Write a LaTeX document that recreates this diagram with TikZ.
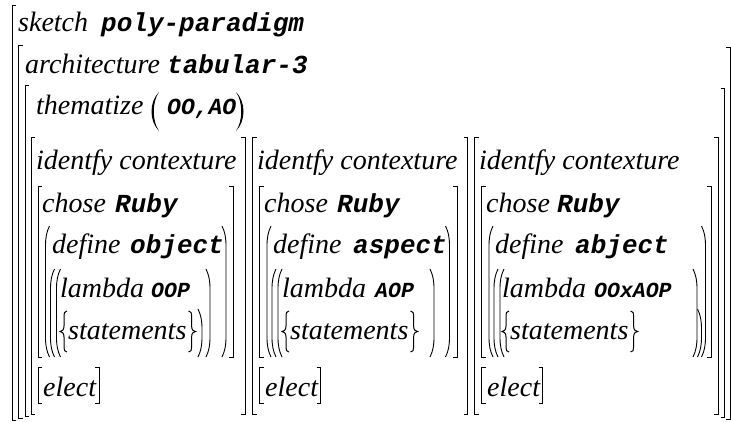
\documentclass[tikz,border=0pt]{standalone}
\usepackage{fontspec}
\setmainfont{Liberation Serif}
\newfontfamily\monof{Liberation Mono}
\usetikzlibrary{calc}
\tikzset{
 tx/.style={anchor=base west, inner sep=0pt, font=\fontsize{28}{30}\selectfont\itshape},
 cw/.style={anchor=base west, inner sep=0pt, font=\monof\fontsize{26}{30}\selectfont\bfseries\itshape},
 cwm/.style={cw, font=\monof\fontsize{23}{26}\selectfont\bfseries\itshape},
 cws/.style={cw, font=\monof\fontsize{21.5}{24}\selectfont\bfseries\itshape},
 brk/.style={line width=0.8pt},
 par/.style={line width=0.9pt},
 brc/.style={line width=1pt},
 lbrace/.pic={\draw[brc] (7,-28) .. controls (4.5,-28) and (4,-26) .. (4,-22) -- (4,-13) .. controls (4,-9) and (2,-7.5) .. (0,-7.5) .. controls (2,-7.5) and (4,-6) .. (4,-2) -- (4,8) .. controls (4,11) and (4.5,13) .. (7,13);},
 rbrace/.pic={\draw[brc] (-7,-28) .. controls (-4.5,-28) and (-4,-26) .. (-4,-22) -- (-4,-13) .. controls (-4,-9) and (-2,-7.5) .. (0,-7.5) .. controls (-2,-7.5) and (-4,-6) .. (-4,-2) -- (-4,8) .. controls (-4,11) and (-4.5,13) .. (-7,13);},
}
\newcommand\LB[3]{\draw[brk] ({#1+4},#2) -- (#1,#2) -- (#1,#3) -- ({#1+4},#3);}
\newcommand\RB[3]{\draw[brk] ({#1-4},#2) -- (#1,#2) -- (#1,#3) -- ({#1-4},#3);}
\newcommand\LP[3]{\draw[par] ({#1+4},#2) .. controls ({#1+1},{#2+6}) and (#1,{#2+12}) .. (#1,{#2+20}) -- (#1,{#3-20}) .. controls (#1,{#3-12}) and ({#1+1},{#3-6}) .. ({#1+4},#3);}
\newcommand\RP[3]{\draw[par] ({#1-4},#2) .. controls ({#1-1},{#2+6}) and (#1,{#2+12}) .. (#1,{#2+20}) -- (#1,{#3-20}) .. controls (#1,{#3-12}) and ({#1-1},{#3-6}) .. ({#1-4},#3);}
\newcommand\LPS[3]{\fill ({#1+9},#2) .. controls ({#1-1},{#2+10}) and ({#1-1},{#3-10}) .. ({#1+9},#3) .. controls ({#1+2},{#3-10}) and ({#1+2},{#2+10}) .. cycle;}
\newcommand\RPS[3]{\fill ({#1-9},#2) .. controls ({#1+1},{#2+10}) and ({#1+1},{#3-10}) .. ({#1-9},#3) .. controls ({#1-2},{#3-10}) and ({#1-2},{#2+10}) .. cycle;}
\begin{document}
\begin{tikzpicture}[x=1pt,y=-1pt]
\useasboundingbox (0,0) rectangle (731,421);
\fill[white] (0,0) rectangle (731,421);
% outer brackets
\LB{12}{5}{420}
\LB{18.5}{45}{418}
\LB{25}{85}{416}
\RB{730.4}{47}{419}
\RB{724.5}{88}{417.5}
% header texts
\node[tx] (sk) at (18,31) {sketch};
\node[cw] (pp) at (101,31) {poly-paradigm};
\node[tx] (ar) at (25,73) {architecture};
\node[cw] (tb) at (167,73) {tabular-3};
\node[tx] (th) at (36,114) {thematize};
\node[cwm] (oa) at (167,114) {OO,AO};
\LPS{150}{92}{131}
\RPS{245}{92}{131}
% column brackets
\LB{31}{137}{414} \RB{245}{137}{414}
\LB{252.5}{137}{414} \RB{467.5}{137}{414}
\LB{474.5}{137}{414} \RB{718}{137}{414}
% chose brackets
\LB{38}{186}{357} \RB{233}{186}{357}
\LB{259.5}{186}{357} \RB{457}{186}{357}
\LB{481.5}{186}{357} \RB{711}{186}{357}
% elect brackets
\LB{38}{367}{403} \RB{99}{367}{403}
\LB{259.5}{367}{403} \RB{320.5}{367}{403}
\LB{481.5}{367}{403} \RB{542.5}{367}{403}
% parens col1
\LP{45.5}{226}{357} \LP{50.5}{269}{357} \LP{56.5}{269}{357}
\RP{226}{226}{357} \RP{210}{269}{357} \RP{202}{309}{357}
% parens col2
\LP{267}{226}{357} \LP{272}{269}{357} \LP{278}{269}{357}
\RP{449.5}{226}{357} \RP{434}{269}{357}
% parens col3
\LP{489}{226}{357} \LP{494}{269}{357} \LP{500}{269}{357}
\RP{705.5}{226}{357} \RP{697}{269}{357} \RP{701.5}{309}{357}
% column 1
\node[tx] (id1) at (36,169) {identfy contexture};
\node[tx] (ch1) at (42,212) {chose};
\node[cw] (rb1) at (115,212) {Ruby};
\node[tx] (df1) at (52,253) {define};
\node[cw] (ob1) at (130,253) {object};
\node[tx] (lm1) at (60,297) {lambda};
\node[cws] (lp1) at (151,297) {OOP};
\node[tx] (st1) at (68,339) {statements};
\node[tx] (el1) at (43,396) {elect};
% column 2
\node[tx] (id2) at (257,169) {identfy contexture};
\node[tx] (ch2) at (264,212) {chose};
\node[cw] (rb2) at (337,212) {Ruby};
\node[tx] (df2) at (273,253) {define};
\node[cw] (ob2) at (353,253) {aspect};
\node[tx] (lm2) at (282,297) {lambda};
\node[cws] (lp2) at (375,297) {AOP};
\node[tx] (st2) at (290,339) {statements};
\node[tx] (el2) at (265,396) {elect};
% column 3
\node[tx] (id3) at (479,169) {identfy contexture};
\node[tx] (ch3) at (486,212) {chose};
\node[cw] (rb3) at (557,212) {Ruby};
\node[tx] (df3) at (495,253) {define};
\node[cw] (ob3) at (575,253) {abject};
\node[tx] (lm3) at (502,297) {lambda};
\node[cws] (lp3) at (594,297) {OOxAOP};
\node[tx] (st3) at (510,339) {statements};
\node[tx] (el3) at (487,396) {elect};
% braces
\pic at ($(st1.base west)+(-8,0)$) {lbrace};
\pic at ($(st1.base east)+(9,0)$) {rbrace};
\pic at ($(st2.base west)+(-8,0)$) {lbrace};
\pic at ($(st2.base east)+(9,0)$) {rbrace};
\pic at ($(st3.base west)+(-8,0)$) {lbrace};
\pic at ($(st3.base east)+(9,0)$) {rbrace};
\end{tikzpicture}
\end{document}
